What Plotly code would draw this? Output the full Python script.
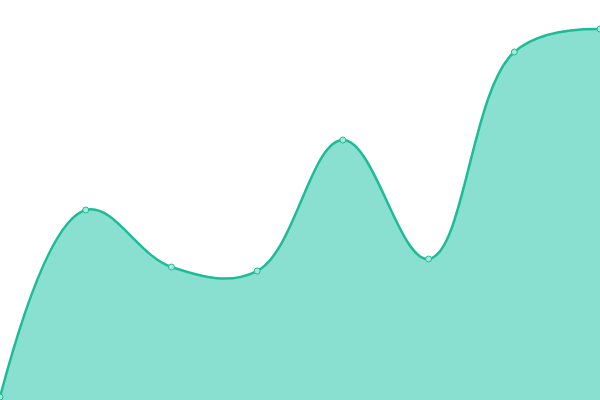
import plotly.graph_objects as go

# values (y axis 0-400)
xVals = [0, 1, 2, 3, 4, 5, 6, 7]
yVals = [3, 190, 133, 129, 260, 141, 348, 371]

lineCol = "#1dbc96"
fillCol = "#8ae0d0"

fig = go.Figure()
fig.add_trace(go.Scatter(x=xVals, y=yVals, mode="lines+markers", fill="tozeroy",
                         fillcolor=fillCol,
                         line=dict(color=lineCol, width=2.5, shape="spline", smoothing=1.1),
                         marker=dict(size=6, color="#a6e9dc", line=dict(color=lineCol, width=1)),
                         cliponaxis=False, showlegend=False))

fig.update_xaxes(visible=False, range=[0, 7])
fig.update_yaxes(visible=False, range=[0, 400])
fig.update_layout(width=600, height=400, margin=dict(l=0, r=0, t=0, b=0),
                  plot_bgcolor="white", paper_bgcolor="white")

# remove default page margin so the figure sits at the window corner
fig.write_html("out.html", config=dict(displayModeBar=False),
               post_script="document.body.style.margin='0';")
